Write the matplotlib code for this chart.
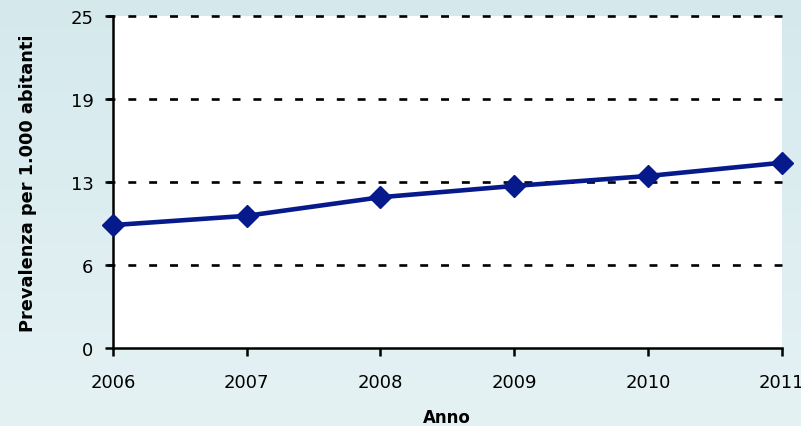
import numpy as np
import matplotlib
matplotlib.use("Agg")
from matplotlib import pyplot as plt

anni = [2006, 2007, 2008, 2009, 2010, 2011]
prevalenza = [9.25, 9.95, 11.35, 12.2, 12.95, 13.95]
y_ticks = [0, 6.25, 12.5, 18.75, 25]
y_labels = ["0", "6", "13", "19", "25"]

plt.rcParams['font.family'] = ['DejaVu Sans']

fig = plt.figure(figsize=(8.01, 4.27), dpi=100)

# soft blue background gradient behind everything
bg = fig.add_axes([0, 0, 1, 1], zorder=-10)
grad = np.linspace(0, 1, 256).reshape(-1, 1)
c_top = np.array([0.835, 0.914, 0.929])
c_bot = np.array([0.898, 0.949, 0.957])
img = c_top + (c_bot - c_top) * grad[..., None]
bg.imshow(img, aspect='auto', extent=[0, 1, 0, 1])
bg.axis('off')

ax = fig.add_axes([0.141, 0.183, 0.835, 0.777])
ax.set_facecolor('white')

ax.plot(anni, prevalenza, color='#061a8c', lw=3.3, marker='D', ms=11,
        clip_on=False, zorder=5)

ax.set_xlim(2006, 2011)
ax.set_ylim(0, 25)
ax.set_yticks(y_ticks)
ax.set_yticklabels(y_labels)
ax.set_xticks(anni)

# dashed horizontal grid, starting at the tick marks left of the axis
for v in y_ticks[1:]:
    ax.plot([-0.009, 1], [v, v], transform=ax.get_yaxis_transform(),
            color='black', lw=1.9, ls=(0, (3.0, 4.9)), zorder=2, clip_on=False)

for s in ['top', 'right']:
    ax.spines[s].set_visible(False)
for s in ['left', 'bottom']:
    ax.spines[s].set_linewidth(1.8)
    ax.spines[s].set_zorder(4)

ax.tick_params(axis='both', direction='out', length=6, width=1.8,
               labelsize=13, colors='black')
ax.tick_params(axis='x', pad=12)
ax.tick_params(axis='y', pad=8)

ax.set_xlabel("Anno", fontsize=12, fontweight='bold', labelpad=12)
ax.set_ylabel("Prevalenza per 1.000 abitanti", fontsize=12.8, fontweight='bold', labelpad=24)

fig.savefig("out.png", dpi=100)
